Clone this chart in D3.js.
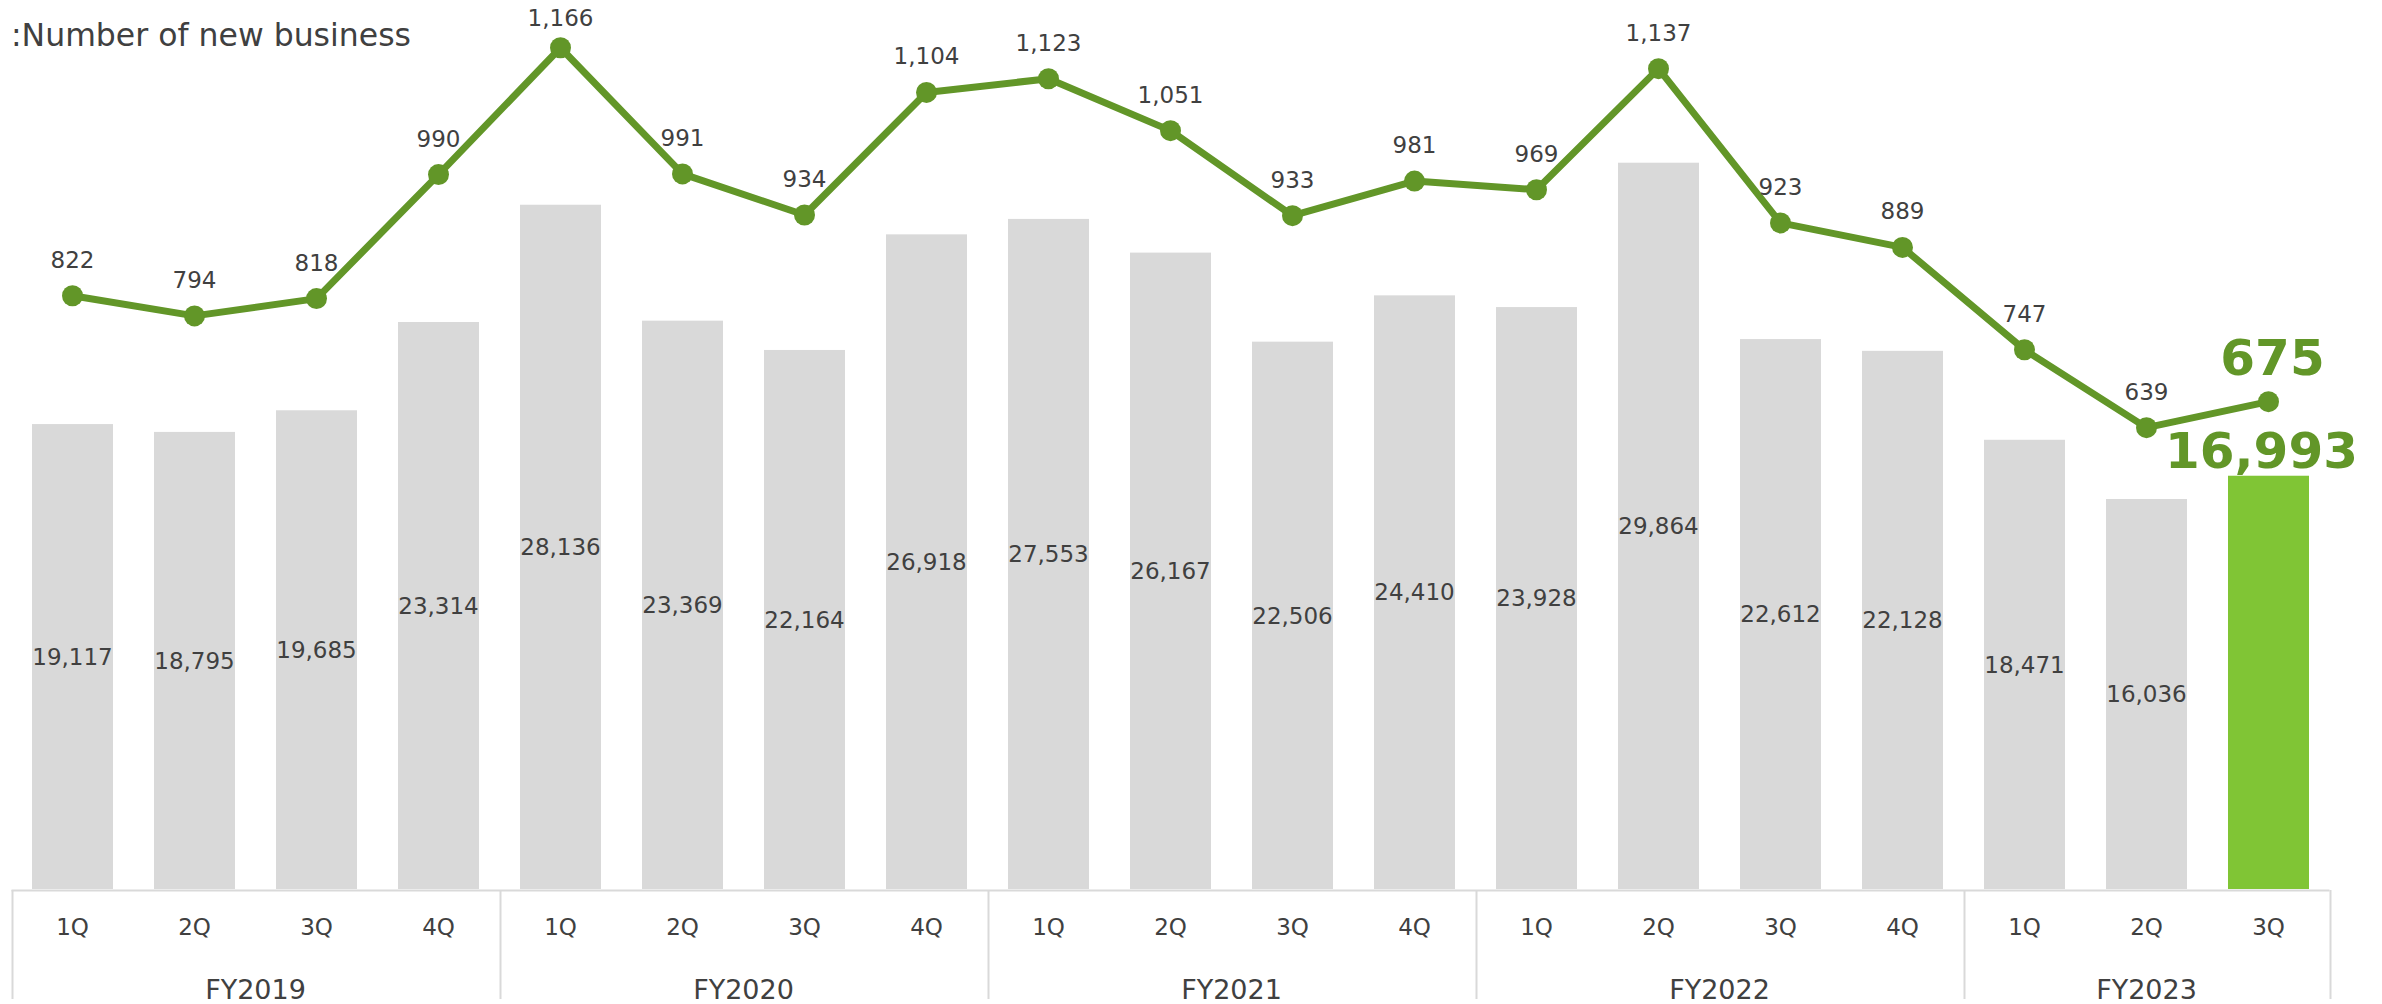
<!DOCTYPE html>
<html>
<head>
<meta charset="utf-8">
<script src="https://cdn.jsdelivr.net/npm/d3@7"></script>
<style>
  html, body { margin: 0; padding: 0; background: #ffffff; }
  svg { display: block; }
</style>
</head>
<body>
<svg id="chart" width="2382" height="1004"></svg>
<script>
// ---- data ----
const quarters = ["1Q","2Q","3Q","4Q","1Q","2Q","3Q","4Q","1Q","2Q","3Q","4Q","1Q","2Q","3Q","4Q","1Q","2Q","3Q"];
const fiscalYears = ["FY2019","FY2020","FY2021","FY2022","FY2023"];
const yearOfQuarter = [0,0,0,0,1,1,1,1,2,2,2,2,3,3,3,3,4,4,4];
const barValues = [19117,18795,19685,23314,28136,23369,22164,26918,27553,26167,22506,24410,23928,29864,22612,22128,18471,16036,16993];
const lineValues = [822,794,818,990,1166,991,934,1104,1123,1051,933,981,969,1137,923,889,747,639,675];
const titleText = ":Number of new business";

// ---- layout ----
const left = 11.5, right = 2329.5;
const base = 889;
const svg = d3.select("#chart");
const fmt = d3.format(",");
const textColor = "#404040";
const lineColor = "#629628";
const highlight = "#80c535";
const grey = "#d9d9d9";
const fontFam = "'DejaVu Sans', Verdana, sans-serif";
const last = barValues.length - 1;

const idx = d3.range(barValues.length);
const x = d3.scaleBand().domain(idx).range([left, right]).paddingInner(0.336).paddingOuter(0.168);
const yBar = d3.scaleLinear().domain([0, 35000]).range([base, base - 35000 * 0.02432]);
const yLine = d3.scaleLinear().domain([0, 1200]).range([888.3, 888.3 - 1200 * 0.7209]);

// title
svg.append("text")
  .attr("x", 11).attr("y", 46)
  .attr("font-family", fontFam).attr("font-size", 31.5)
  .attr("fill", textColor)
  .text(titleText);

// bars
svg.append("g").selectAll("rect").data(idx).join("rect")
  .attr("x", i => x(i))
  .attr("width", x.bandwidth())
  .attr("y", i => yBar(barValues[i]))
  .attr("height", i => yBar(0) - yBar(barValues[i]))
  .attr("fill", i => i === last ? highlight : grey);

// bar labels (centered)
svg.append("g").selectAll("text").data(idx.filter(i => i !== last)).join("text")
  .attr("x", i => x(i) + x.bandwidth() / 2)
  .attr("y", i => (yBar(barValues[i]) + yBar(0)) / 2)
  .attr("dy", "0.36em")
  .attr("text-anchor", "middle")
  .attr("font-family", fontFam).attr("font-size", 23)
  .attr("fill", textColor)
  .text(i => fmt(barValues[i]));

// axis
const axisG = svg.append("g");
axisG.append("line")
  .attr("x1", left).attr("x2", right)
  .attr("y1", 890.5).attr("y2", 890.5)
  .attr("stroke", grey).attr("stroke-width", 2);
const bounds = [0, 4, 8, 12, 16];
const step = x.step();
const sepX = bounds.map(b => left + b * step).concat([left + barValues.length * step]);
axisG.selectAll("line.sep").data(sepX).join("line")
  .attr("class", "sep")
  .attr("x1", d => Math.round(d) + 0.5).attr("x2", d => Math.round(d) + 0.5)
  .attr("y1", 890).attr("y2", 999)
  .attr("stroke", grey).attr("stroke-width", 2);
axisG.selectAll("text.q").data(idx).join("text")
  .attr("class", "q")
  .attr("x", i => x(i) + x.bandwidth() / 2)
  .attr("y", 935)
  .attr("text-anchor", "middle")
  .attr("font-family", fontFam).attr("font-size", 23)
  .attr("fill", textColor)
  .text(i => quarters[i]);
axisG.selectAll("text.fy").data(fiscalYears).join("text")
  .attr("class", "fy")
  .attr("x", (d, k) => {
    const members = idx.filter(i => yearOfQuarter[i] === k);
    const a = left + members[0] * step, b = left + (members[members.length - 1] + 1) * step;
    return (a + b) / 2;
  })
  .attr("y", 999)
  .attr("text-anchor", "middle")
  .attr("font-family", fontFam).attr("font-size", 27)
  .attr("fill", textColor)
  .text(d => d);

// line
const cx = i => x(i) + x.bandwidth() / 2;
svg.append("path")
  .datum(idx)
  .attr("fill", "none")
  .attr("stroke", lineColor)
  .attr("stroke-width", 7)
  .attr("stroke-linejoin", "round")
  .attr("d", d3.line().x(i => cx(i)).y(i => yLine(lineValues[i])));
svg.append("g").selectAll("circle").data(idx).join("circle")
  .attr("cx", i => cx(i))
  .attr("cy", i => yLine(lineValues[i]))
  .attr("r", 10.5)
  .attr("fill", lineColor);

svg.append("g").selectAll("text").data(idx.filter(i => i !== last)).join("text")
  .attr("x", i => cx(i))
  .attr("y", i => Math.max(yLine(lineValues[i]) - 28, 26))
  .attr("text-anchor", "middle")
  .attr("font-family", fontFam).attr("font-size", 23)
  .attr("fill", textColor)
  .text(i => fmt(lineValues[i]));

// highlighted last values
svg.append("text")
  .attr("x", cx(last) + 4)
  .attr("y", yLine(lineValues[last]) - 27)
  .attr("text-anchor", "middle")
  .attr("font-family", fontFam).attr("font-size", 50).attr("font-weight", "bold")
  .attr("fill", lineColor)
  .text(fmt(lineValues[last]));
svg.append("text")
  .attr("x", cx(last) - 7)
  .attr("y", yBar(barValues[last]) - 8)
  .attr("text-anchor", "middle")
  .attr("font-family", fontFam).attr("font-size", 50).attr("font-weight", "bold")
  .attr("fill", lineColor)
  .text(fmt(barValues[last]));
</script>
</body>
</html>
